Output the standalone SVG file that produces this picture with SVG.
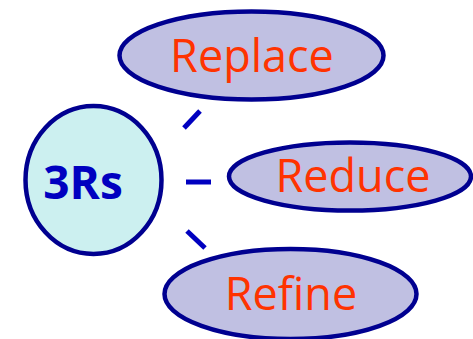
<svg xmlns="http://www.w3.org/2000/svg" width="473" height="339" viewBox="0 0 473 339">
<style>
.el{fill:#C0C0E2;stroke:#000090;stroke-width:4.5}
.hub{fill:#CCF0F0;stroke:#000090;stroke-width:4.5}
.lbl{font-family:"Open Sans","Noto Sans",sans-serif;font-size:45px;fill:#FF3300;text-anchor:middle}
.hubl{font-family:"Open Sans","Noto Sans",sans-serif;font-size:46px;font-weight:bold;fill:#0000C0;text-anchor:middle}
.con{stroke:#0000C0;stroke-width:5;fill:none}
</style>
<rect width="473" height="339" fill="#fff"/>
<g id="connectors">
<line class="con" x1="184" y1="128" x2="200" y2="111"/>
<line class="con" x1="186" y1="182" x2="211" y2="182"/>
<line class="con" x1="187" y1="231" x2="205" y2="248"/>
</g>
<g id="hub">
<ellipse class="hub" cx="93.5" cy="180" rx="68" ry="74"/>
<text class="hubl" x="83" y="199">3Rs</text>
</g>
<g id="replace">
<ellipse class="el" cx="251.5" cy="55.5" rx="132" ry="44"/>
<text class="lbl" x="252" y="72">Replace</text>
</g>
<g id="reduce">
<ellipse class="el" cx="350" cy="176.5" rx="121" ry="34"/>
<text class="lbl" x="353" y="192">Reduce</text>
</g>
<g id="refine">
<ellipse class="el" cx="290.5" cy="294" rx="126" ry="45"/>
<text class="lbl" x="291" y="310">Refine</text>
</g>
</svg>
